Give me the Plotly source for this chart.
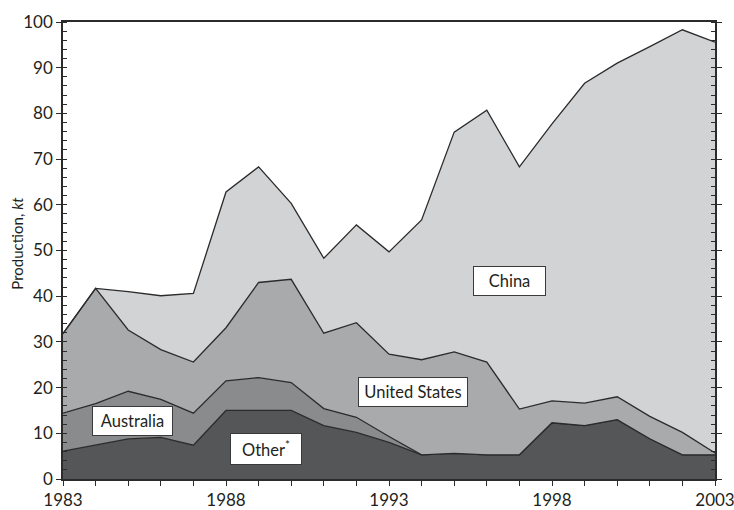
import plotly.graph_objects as go

years = list(range(1983, 2004))
other = [6.1, 7.5, 8.8, 9.1, 7.4, 15.0, 15.0, 15.0, 11.7, 10.2, 8.0, 5.3, 5.6, 5.3, 5.3, 12.3, 11.7, 13.0, 8.8, 5.3, 5.3]
australia = [8.3, 9.0, 10.4, 8.3, 7.0, 6.5, 7.2, 6.1, 3.7, 3.3, 1.3, 0, 0, 0, 0, 0, 0, 0, 0, 0, 0]
united_states = [17.4, 25.2, 13.4, 10.9, 11.2, 11.6, 20.8, 22.6, 16.5, 20.7, 18.0, 20.8, 22.2, 20.3, 10.0, 4.8, 4.9, 5.0, 4.9, 4.9, 0.4]
china = [0, 0, 8.4, 11.8, 15.0, 29.7, 25.3, 16.6, 16.4, 21.4, 22.4, 30.6, 48.1, 55.1, 53.0, 60.6, 70.0, 73.0, 80.9, 88.1, 89.9]

series = [
    ("Other*", other, "#555658"),
    ("Australia", australia, "#8a8b8d"),
    ("United States", united_states, "#a9aaac"),
    ("China", china, "#d2d3d5"),
]

x_tick_vals = [1983, 1988, 1993, 1998, 2003]
y_title = "Production, <i>kt</i>"

fig = go.Figure()
for name, vals, col in series:
    fig.add_trace(go.Scatter(
        x=years, y=vals, name=name, mode="lines",
        stackgroup="one", fillcolor=col,
        line=dict(color="#2b2b2b", width=1.3),
        hoverinfo="x+y+name",
    ))

labels = [
    ("China", 1996.7, 43.3, 63),
    ("United States", 1993.74, 19.1, 100),
    ("Australia", 1985.14, 12.6, 71),
    ("Other<sup>*</sup>", 1989.22, 6.5, 62),
]
for text, lx, ly, w in labels:
    fig.add_annotation(
        x=lx, y=ly, text=text, showarrow=False, width=w,
        font=dict(family="Lato, Noto Sans, sans-serif", size=16.5, color="#231f20"),
        bgcolor="white", bordercolor="#3a3a3a", borderwidth=1, borderpad=4,
    )

# y-axis title placed in the left margin
fig.add_annotation(
    xref="paper", yref="paper", x=-0.0705, y=0.515, text=y_title,
    textangle=-90, showarrow=False, xanchor="center", yanchor="middle",
    font=dict(family="Lato, Noto Sans, sans-serif", size=15, color="#231f20"),
)

fig.update_layout(
    width=734, height=510,
    margin=dict(l=63, r=19, t=22, b=30.5, autoexpand=False),
    paper_bgcolor="white", plot_bgcolor="white",
    showlegend=False,
    font=dict(family="Lato, Noto Sans, sans-serif", color="#231f20"),
)
fig.update_xaxes(
    range=[1983, 2003], tickvals=x_tick_vals, ticktext=[str(v) for v in x_tick_vals],
    ticks="outside", ticklen=5, tickcolor="#2b2b2b", tickwidth=1,
    minor=dict(dtick=1, ticks="outside", ticklen=5, tickcolor="#2b2b2b"),
    showline=True, linecolor="#2b2b2b", linewidth=1.5, mirror=True,
    showgrid=False, zeroline=False, automargin=False,
    ticklabeloverflow="allow",
    tickfont=dict(size=17),
)
fig.update_yaxes(
    range=[0, 100], dtick=10,
    ticks="outside", ticklen=5, tickcolor="#2b2b2b", tickwidth=1,
    minor=dict(dtick=2, ticks="inside", ticklen=4, tickcolor="#2b2b2b"),
    showline=True, linecolor="#2b2b2b", linewidth=1.5, mirror="ticks",
    showgrid=False, zeroline=False, automargin=False,
    ticklabeloverflow="allow",
    tickfont=dict(size=17),
)

# remove the browser's default 8px body margin so the figure fills the window exactly
fig.write_html(
    "out.html",
    config={"displayModeBar": False},
    post_script="document.body.style.margin='0';document.body.style.overflow='hidden';",
)
